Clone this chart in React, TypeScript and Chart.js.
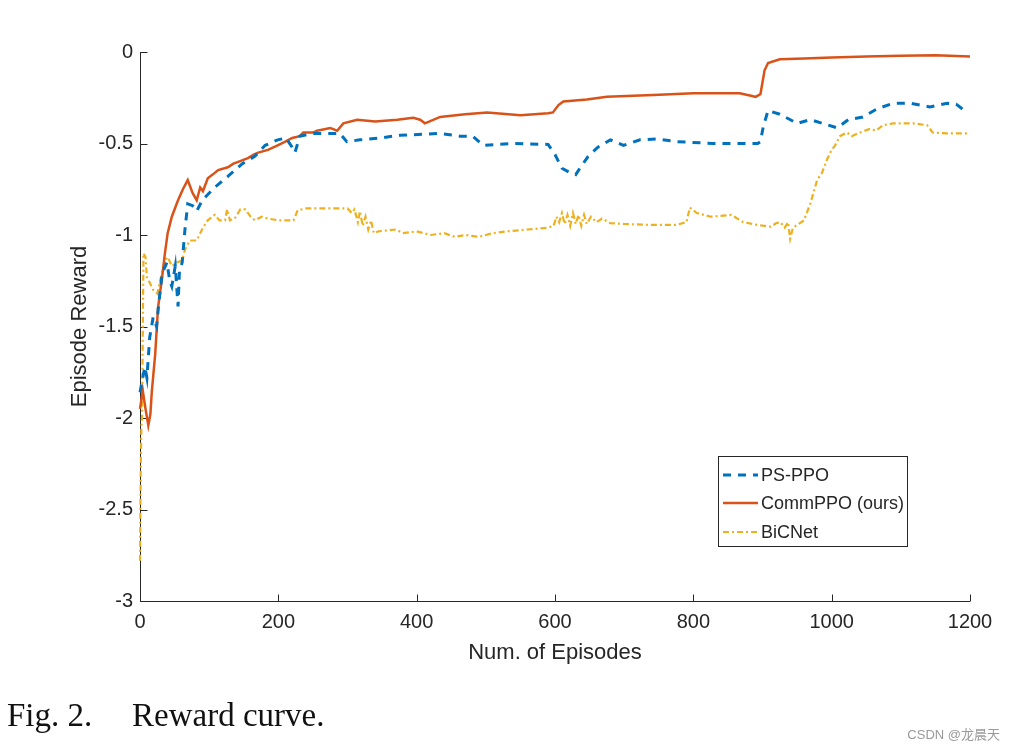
import React, { useEffect, useRef } from 'react';
import { Chart, registerables } from 'chart.js';

Chart.register(...registerables);

// ---------- data ----------
const xTicks = [0, 200, 400, 600, 800, 1000, 1200];
const yTicks = [0, -0.5, -1, -1.5, -2, -2.5, -3];

const seriesNames = ['PS-PPO', 'CommPPO (ours)', 'BiCNet'];

const epsPS = [0, 3, 7, 10, 14, 19, 24, 27, 32, 39, 43, 46, 51, 55, 57, 61, 65, 69, 76, 82, 90, 108, 127, 148, 166, 181, 199, 211, 220, 224, 231, 250, 289, 299, 318, 347, 376, 434, 462, 481, 496, 540, 590, 600, 610, 622, 630, 636, 648, 662, 680, 699, 723, 748, 777, 828, 870, 893, 897, 901, 908, 925, 950, 969, 987, 1008, 1024, 1045, 1066, 1089, 1113, 1142, 1167, 1180, 1192];
const rewardPS = [-1.86, -1.8, -1.72, -1.78, -1.56, -1.45, -1.5, -1.38, -1.21, -1.15, -1.25, -1.28, -1.17, -1.39, -1.2, -1.15, -0.97, -0.83, -0.84, -0.87, -0.81, -0.74, -0.68, -0.61, -0.57, -0.51, -0.48, -0.47, -0.52, -0.55, -0.46, -0.445, -0.445, -0.49, -0.48, -0.47, -0.455, -0.445, -0.46, -0.46, -0.51, -0.5, -0.505, -0.56, -0.635, -0.66, -0.67, -0.635, -0.57, -0.52, -0.48, -0.51, -0.48, -0.475, -0.49, -0.5, -0.5, -0.5, -0.49, -0.41, -0.32, -0.34, -0.39, -0.37, -0.39, -0.415, -0.37, -0.355, -0.31, -0.28, -0.28, -0.3, -0.28, -0.285, -0.32];

const epsComm = [0, 4, 8, 12, 15, 17, 22, 26, 32, 36, 40, 46, 51, 55, 62, 69, 76, 82, 87, 91, 98, 105, 113, 127, 135, 142, 156, 165, 171, 185, 199, 210, 220, 231, 236, 250, 256, 275, 285, 294, 314, 340, 372, 395, 405, 412, 434, 470, 502, 550, 590, 597, 605, 612, 646, 675, 742, 800, 840, 867, 885, 890, 897, 903, 908, 925, 960, 1000, 1050, 1100, 1150, 1200];
const rewardComm = [-1.95, -1.85, -1.95, -2.04, -1.98, -1.86, -1.65, -1.4, -1.23, -1.1, -0.99, -0.9, -0.85, -0.81, -0.75, -0.7, -0.77, -0.81, -0.74, -0.76, -0.69, -0.67, -0.645, -0.63, -0.61, -0.6, -0.58, -0.56, -0.55, -0.535, -0.51, -0.49, -0.47, -0.46, -0.44, -0.44, -0.43, -0.415, -0.43, -0.39, -0.37, -0.38, -0.37, -0.36, -0.37, -0.39, -0.355, -0.34, -0.33, -0.345, -0.335, -0.33, -0.29, -0.27, -0.26, -0.245, -0.235, -0.225, -0.225, -0.225, -0.24, -0.245, -0.23, -0.1, -0.06, -0.04, -0.035, -0.03, -0.025, -0.02, -0.018, -0.025];

const epsBiC = [0, 1, 2, 3, 5, 8, 10, 14, 19, 25, 29, 36, 40, 46, 53, 61, 65, 72, 82, 91, 98, 108, 115, 123, 126, 130, 137, 145, 152, 160, 166, 176, 185, 200, 222, 228, 240, 300, 306, 310, 315, 318, 322, 326, 330, 334, 338, 345, 370, 380, 400, 420, 440, 455, 470, 490, 510, 530, 560, 590, 598, 602, 606, 610, 614, 618, 622, 626, 630, 634, 638, 642, 646, 652, 660, 668, 680, 700, 740, 775, 790, 795, 805, 825, 855, 872, 893, 912, 920, 926, 932, 937, 940, 944, 950, 960, 969, 979, 986, 993, 1000, 1005, 1012, 1022, 1029, 1041, 1055, 1064, 1074, 1089, 1118, 1138, 1146, 1167, 1200];
const rewardBiC = [-2.78, -2.3, -2.05, -2.0, -1.1, -1.12, -1.23, -1.26, -1.3, -1.32, -1.25, -1.14, -1.12, -1.17, -1.15, -1.14, -1.08, -1.03, -1.03, -0.96, -0.92, -0.89, -0.92, -0.92, -0.86, -0.92, -0.91, -0.86, -0.86, -0.9, -0.92, -0.9, -0.91, -0.92, -0.92, -0.865, -0.855, -0.855, -0.88, -0.86, -0.93, -0.87, -0.95, -0.9, -0.97, -0.92, -0.99, -0.98, -0.97, -0.99, -0.98, -1.0, -0.99, -1.01, -1.0, -1.01, -0.99, -0.98, -0.97, -0.96, -0.95, -0.9, -0.93, -0.88, -0.94, -0.89, -0.95, -0.88, -0.94, -0.89, -0.95, -0.89, -0.94, -0.9, -0.93, -0.91, -0.935, -0.94, -0.945, -0.945, -0.93, -0.85, -0.88, -0.9, -0.89, -0.93, -0.945, -0.955, -0.935, -0.93, -0.96, -0.93, -1.02, -0.96, -0.945, -0.92, -0.83, -0.7, -0.66, -0.59, -0.535, -0.51, -0.46, -0.44, -0.46, -0.44, -0.42, -0.43, -0.4, -0.39, -0.39, -0.4, -0.44, -0.445, -0.445];

const AXIS_COLOR = '#262626';
const SANS = '"Liberation Sans", Arial, Helvetica, sans-serif';

const toPoints = (xs: number[], ys: number[]) => xs.map((x, i) => ({ x, y: ys[i] }));

const matlabAxes = {
  id: 'matlabAxes',
  beforeDatasetsDraw(chart: any) {
    const { ctx, chartArea, scales } = chart;
    const { left, right, top, bottom } = chartArea;
    const L = Math.round(left) + 0.5;
    const B = Math.round(bottom) + 0.5;
    ctx.save();
    ctx.strokeStyle = AXIS_COLOR;
    ctx.lineWidth = 1;
    ctx.beginPath();
    ctx.moveTo(L, top);
    ctx.lineTo(L, B);
    ctx.lineTo(right, B);
    for (const v of xTicks) {
      const px = Math.round(scales.x.getPixelForValue(v)) + 0.5;
      ctx.moveTo(px, B);
      ctx.lineTo(px, B - 7);
    }
    for (const v of yTicks) {
      const py = Math.round(scales.y.getPixelForValue(v)) + 0.5;
      ctx.moveTo(L, py);
      ctx.lineTo(L + 7, py);
    }
    ctx.stroke();
    ctx.restore();
  },
};

const boxLegend = {
  id: 'boxLegend',
  afterDraw(chart: any) {
    const { ctx } = chart;
    const x0 = 718, y0 = 456, x1 = 908, y1 = 547;
    ctx.save();
    ctx.fillStyle = '#ffffff';
    ctx.fillRect(x0, y0, x1 - x0, y1 - y0);
    ctx.strokeStyle = AXIS_COLOR;
    ctx.lineWidth = 1;
    ctx.strokeRect(x0 + 0.5, y0 + 0.5, x1 - x0 - 1, y1 - y0 - 1);
    const rows = [475, 503, 532];
    chart.data.datasets.forEach((ds: any, i: number) => {
      const y = rows[i];
      ctx.beginPath();
      ctx.strokeStyle = ds.borderColor;
      ctx.lineWidth = ds.borderWidth;
      ctx.setLineDash(ds.borderDash || []);
      ctx.moveTo(723, y);
      ctx.lineTo(758, y);
      ctx.stroke();
      ctx.setLineDash([]);
      ctx.fillStyle = AXIS_COLOR;
      ctx.font = `18px ${SANS}`;
      ctx.textBaseline = 'middle';
      ctx.textAlign = 'left';
      ctx.fillText(ds.label, 761, y + 1);
    });
    ctx.restore();
  },
};

export default function App() {
  const canvasRef = useRef<HTMLCanvasElement | null>(null);

  useEffect(() => {
    if (!canvasRef.current) return;
    const chart = new Chart(canvasRef.current, {
      type: 'line',
      data: {
        datasets: [
          {
            label: seriesNames[0],
            data: toPoints(epsPS, rewardPS),
            borderColor: '#0072BD',
            borderWidth: 3,
            borderDash: [8, 7],
            pointRadius: 0,
            tension: 0,
            clip: false as any,
          },
          {
            label: seriesNames[1],
            data: toPoints(epsComm, rewardComm),
            borderColor: '#D95319',
            borderWidth: 2.5,
            pointRadius: 0,
            tension: 0,
            clip: false as any,
          },
          {
            label: seriesNames[2],
            data: toPoints(epsBiC, rewardBiC),
            borderColor: '#EDB120',
            borderWidth: 2.2,
            borderDash: [6, 3, 2, 3],
            pointRadius: 0,
            tension: 0,
            clip: false as any,
          },
        ],
      },
      options: {
        animation: false,
        responsive: false,
        devicePixelRatio: 1,
        layout: { padding: { left: 0, top: 52, right: 44, bottom: 84 } },
        plugins: { legend: { display: false }, tooltip: { enabled: false } },
        scales: {
          x: {
            type: 'linear',
            min: 0,
            max: 1200,
            afterBuildTicks: (s: any) => {
              s.ticks = xTicks.map((v) => ({ value: v }));
            },
            afterFit: (s: any) => {
              s.height = 66;
            },
            grid: { display: false, drawTicks: false },
            border: { display: false },
            ticks: {
              padding: 9,
              color: AXIS_COLOR,
              font: { family: SANS, size: 20 },
              maxRotation: 0,
              callback: (v: any) => String(v),
            },
            title: {
              display: true,
              text: 'Num. of Episodes',
              color: AXIS_COLOR,
              font: { family: SANS, size: 22 },
              padding: { top: 0, bottom: 1 },
            },
          },
          y: {
            type: 'linear',
            min: -3,
            max: 0,
            afterBuildTicks: (s: any) => {
              s.ticks = yTicks.map((v) => ({ value: v }));
            },
            afterFit: (s: any) => {
              s.width = 140;
            },
            grid: { display: false, drawTicks: false },
            border: { display: false },
            ticks: {
              padding: 7,
              color: AXIS_COLOR,
              font: { family: SANS, size: 20 },
              callback: (v: any) => String(v),
            },
            title: {
              display: true,
              text: 'Episode Reward',
              color: AXIS_COLOR,
              font: { family: SANS, size: 22 },
              padding: { top: 67, bottom: 0 },
            },
          },
        },
      },
      plugins: [matlabAxes, boxLegend],
    });
    return () => chart.destroy();
  }, []);

  return (
    <div style={{ position: 'fixed', left: 0, top: 0, width: 1014, height: 751, background: '#ffffff', overflow: 'hidden' }}>
      <canvas ref={canvasRef} width={1014} height={751} style={{ position: 'absolute', left: 0, top: 0, width: 1014, height: 751 }} />
      <div style={{ position: 'absolute', left: 7, top: 699, fontFamily: '"Liberation Serif", "Times New Roman", serif', fontSize: 33, lineHeight: '33px', color: '#111', whiteSpace: 'nowrap' }}>
        Fig. 2.
      </div>
      <div style={{ position: 'absolute', left: 132, top: 699, fontFamily: '"Liberation Serif", "Times New Roman", serif', fontSize: 33, lineHeight: '33px', color: '#111', whiteSpace: 'nowrap' }}>
        Reward curve.
      </div>
      <div style={{ position: 'absolute', right: 14, top: 727, fontFamily: '"Liberation Sans", "Noto Sans CJK SC", sans-serif', fontSize: 13, lineHeight: '16px', color: '#9a9a9a', whiteSpace: 'nowrap' }}>
        CSDN @龙晨天
      </div>
    </div>
  );
}
